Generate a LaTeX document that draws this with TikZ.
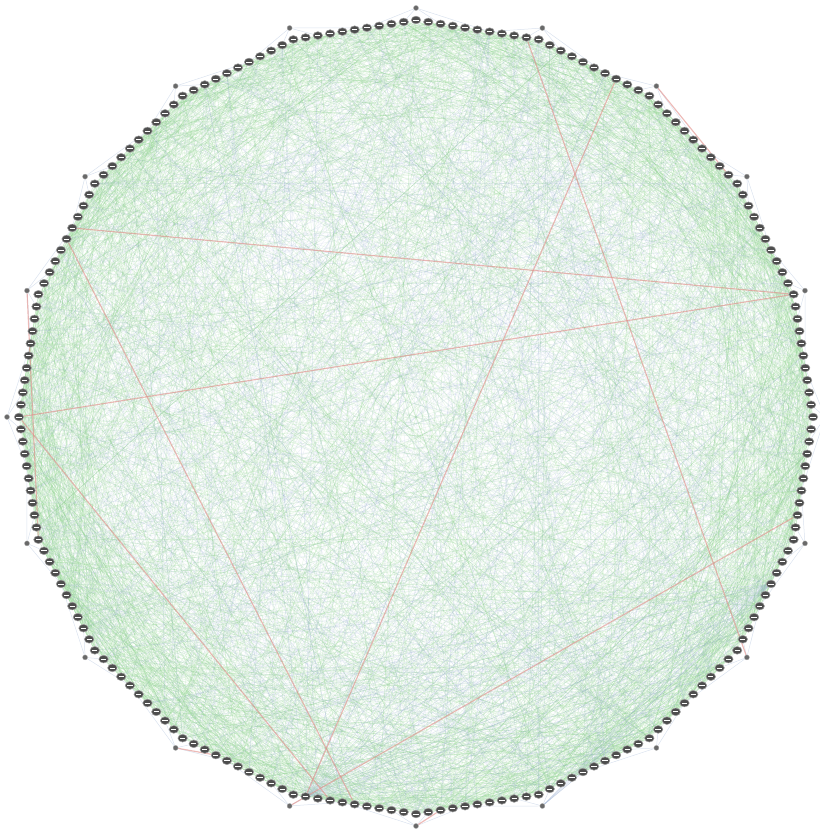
\documentclass[tikz,border=0pt]{standalone}
\usepackage{tikz}
\usetikzlibrary{calc, backgrounds, shapes.geometric}
\definecolor{cN}{RGB}{78,78,78}
\definecolor{cG}{RGB}{140,210,140}
\definecolor{cB}{RGB}{150,172,208}
\definecolor{cR}{RGB}{225,140,135}

\begin{document}
\begin{tikzpicture}[x=0.02cm, y=0.02cm,
    member/.style={ellipse, draw=cN!55, line width=0.3pt, fill=cN, minimum width=5.4pt, minimum height=4.4pt, inner sep=0pt,
        path picture={\draw[white, line width=0.45pt] ([xshift=-1.5pt]path picture bounding box.center) -- ([xshift=1.5pt]path picture bounding box.center);}},
    hub/.style={circle, draw=cN!45, line width=0.2pt, fill=cN!85, minimum size=2.9pt, inner sep=0pt},
    gedge/.style={draw=cG, line width=0.28pt, opacity=0.22},
    bedge/.style={draw=cB, line width=0.28pt, opacity=0.16},
    redge/.style={draw=cR, line width=0.65pt, opacity=0.6}]

    \useasboundingbox (-416,-412) rectangle (404,417);

    % 20 groups of 10 members along the sides of a 20-gon, one hub at each corner
    \foreach \k in {0,...,19} {
        \pgfmathsetmacro\ta{18*\k}
        \pgfmathsetmacro\tb{18*\k+18}
        \foreach \j in {0,...,9} {
            \pgfmathtruncatemacro\i{10*\k+\j}
            \pgfmathsetmacro\t{\j/10}
            \node[member] (n\i) at ($(\ta:397)!\t!(\tb:397)$) {};
        }
        \node[hub] (h\k) at (\ta:409) {};
    }

    \begin{scope}[on background layer]
        \pgfmathsetseed{4217}
        % short links between neighbouring groups
        \foreach \e in {1,...,1300} {
            \pgfmathtruncatemacro\a{random(0,199)}
            \pgfmathtruncatemacro\b{mod(\a+random(3,45),200)}
            \draw[gedge] (n\a) -- (n\b);
        }
        % long links across the ring
        \foreach \e in {1,...,700} {
            \pgfmathtruncatemacro\a{random(0,199)}
            \pgfmathtruncatemacro\b{mod(\a+random(46,154),200)}
            \draw[bedge] (n\a) -- (n\b);
        }
        \foreach \e in {1,...,900} {
            \pgfmathtruncatemacro\a{random(0,199)}
            \pgfmathtruncatemacro\b{mod(\a+random(46,154),200)}
            \draw[gedge, opacity=0.19] (n\a) -- (n\b);
        }

        % fans out of the two busy members
        \foreach \b in {162,166,168,171,174,177,179,182,184,187,190,193,196,199,2,5,8,12,16,21,27,34,44,58,66} {
            \draw[bedge, opacity=0.3] (n141) -- (n\b);
        }
        \foreach \b in {120,126,131,135,138,144,147,150,153,156,158,161,164} {
            \draw[bedge, opacity=0.3] (n186) -- (n\b);
        }
        \foreach \b in {181,183,185,187,189} {
            \draw[bedge, opacity=0.3] (h16) -- (n\b);
        }

        % each hub is tied to members around its corner
        \foreach \k in {0,...,19} {
            \pgfmathtruncatemacro\p{mod(10*\k+1,200)}
            \pgfmathtruncatemacro\q{mod(10*\k+4,200)}
            \pgfmathtruncatemacro\r{mod(10*\k+198,200)}
            \pgfmathtruncatemacro\s{mod(10*\k+194,200)}
            \draw[bedge, opacity=0.35] (h\k) -- (n\p);
            \draw[bedge, opacity=0.35] (h\k) -- (n\q);
            \draw[bedge, opacity=0.35] (h\k) -- (n\r);
            \draw[bedge, opacity=0.35] (h\k) -- (n\s);
        }

        % the few strong links
        \foreach \a/\b in {n84/n10, n100/n10, n33/n141, n41/h18, h14/n192, n85/n145, n100/n143, h9/n110, h3/n21, h13/n133, h15/n152} {
            \draw[redge] (\a) -- (\b);
        }
    \end{scope}
\end{tikzpicture}
\end{document}
